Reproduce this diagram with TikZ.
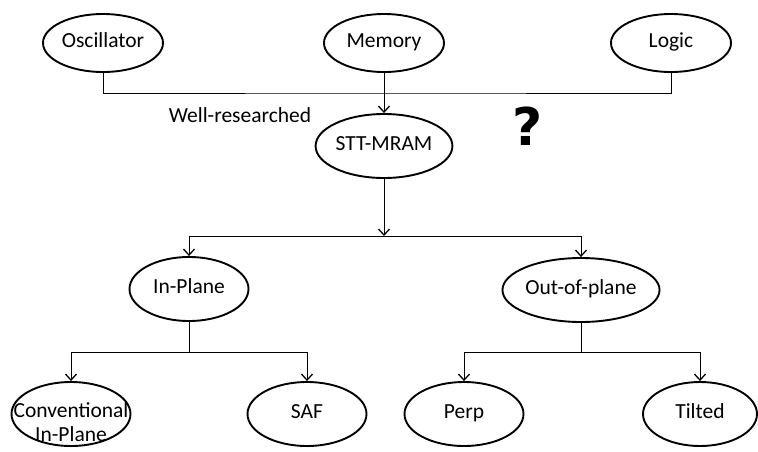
\documentclass[tikz,border=0pt]{standalone}
\usepackage{fontspec}
\setmainfont{Carlito}
\newfontfamily\qfont{DejaVu Sans}
\usetikzlibrary{shapes.geometric,arrows.meta}
\tikzset{
	blob/.style={draw,ellipse,line width=1.9pt,minimum width=119pt,minimum height=64pt,inner sep=0pt,text height=13pt,text depth=5pt},
	topblob/.style={blob,minimum width=120pt,minimum height=58pt},
	wire/.style={line width=1pt},
	>={Straight Barb[length=6pt,width=11pt,line width=1.3pt]}
}
\begin{document}
\begin{tikzpicture}[x=1pt,y=-1pt,font=\fontsize{21.5}{24}\selectfont]
		\useasboundingbox (0,0) rectangle (758,451);
		% top row
		\node[topblob] (osc) at (103,43) {Oscillator};
		\node[topblob] (mem) at (384,43) {Memory};
		\node[topblob] (log) at (671,43) {Logic};
		\coordinate (topbar) at (384,93);
		\draw[wire] (osc.south) |- (topbar) -| (log.south);
		\draw[wire] (mem.south) -- (topbar);
		\node[blob] (stt) at (384,146) {STT-MRAM};
		\draw[wire,->] (topbar) -- (stt.north);
		\node (wr) at (240,115) {Well-researched};
		\node[font=\qfont\bfseries\fontsize{52}{52}\selectfont] (qm) at (528,126) {?};
		% second level
		\coordinate (midbar) at (384,236);
		\draw[wire,->] (stt.south) -- (midbar);
		\node[blob] (inp) at (189,289) {In-Plane};
		\node[blob] (oop) at (581,290) {Out-of-plane};
		\draw[wire,->] (midbar) -| (inp.north);
		\draw[wire,->] (midbar) -| (oop.north);
		% third level
		\coordinate (lbar) at (189,352);
		\coordinate (rbar) at (581,352);
		\draw[wire] (inp.south) -- (lbar);
		\draw[wire] (oop.south) -- (rbar);
		\node[blob] (conv) at (71,414) {};
		\node[align=center,inner sep=0pt] (convtxt) at (71,422) {Conventional\\In-Plane};
		\node[blob] (saf) at (307,414) {SAF};
		\node[blob] (perp) at (464,414) {Perp};
		\node[blob,minimum width=114pt] (tilt) at (700,414) {Tilted};
		\draw[wire,->] (lbar) -| (conv.north);
		\draw[wire,->] (lbar) -| (saf.north);
		\draw[wire,->] (rbar) -| (perp.north);
		\draw[wire,->] (rbar) -| (tilt.north);
\end{tikzpicture}
\end{document}
